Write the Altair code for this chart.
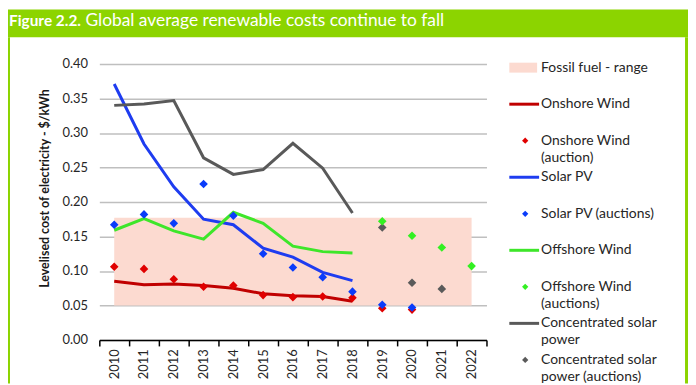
import altair as alt
import pandas as pd

# ---------------- data ----------------
years = [str(y) for y in range(2010, 2023)]
line_years = years[:9]  # 2010-2018

onshore_wind = [0.085, 0.080, 0.081, 0.079, 0.075, 0.067, 0.064, 0.063, 0.056]
solar_pv = [0.371, 0.284, 0.222, 0.175, 0.167, 0.133, 0.120, 0.098, 0.086]
offshore_wind = [0.159, 0.176, 0.158, 0.146, 0.185, 0.169, 0.136, 0.128, 0.126]
csp = [0.340, 0.342, 0.347, 0.264, 0.240, 0.247, 0.285, 0.249, 0.184]

onshore_auction_years = years[:11]
onshore_auction = [0.106, 0.103, 0.088, 0.077, 0.079, 0.065, 0.062, 0.063, 0.061, 0.046, 0.044]
solar_auction_years = years[:11]
solar_auction = [0.167, 0.182, 0.169, 0.226, 0.180, 0.125, 0.105, 0.091, 0.070, 0.051, 0.047]
offshore_auction_years = ["2019", "2020", "2021", "2022"]
offshore_auction = [0.172, 0.151, 0.134, 0.107]
csp_auction_years = ["2019", "2020", "2021"]
csp_auction = [0.163, 0.083, 0.074]

fossil_years = ["2010", "2022"]
fossil_low = [0.05, 0.05]
fossil_high = [0.177, 0.177]

y_ticks = [0.0, 0.05, 0.10, 0.15, 0.20, 0.25, 0.30, 0.35, 0.40]

series_names = ["Onshore Wind", "Solar PV", "Offshore Wind", "Concentrated solar power",
                "Concentrated solar power (auctions)", "Offshore Wind (auctions)",
                "Onshore Wind (auction)", "Solar PV (auctions)"]
series_colors = ["#C00000", "#1E3CF0", "#3EE62A", "#595959",
                 "#5A5A5A", "#33F022", "#E00000", "#0A3CFA"]

FONT = "Lato"


def long_df(series):
    rows = []
    for k, (name, yrs, vals) in enumerate(series):
        for y, v in zip(yrs, vals):
            rows.append({"series": name, "year": y, "value": v, "ord": k})
    return pd.DataFrame(rows)


lines_df = long_df([
    ("Onshore Wind", line_years, onshore_wind),
    ("Solar PV", line_years, solar_pv),
    ("Offshore Wind", line_years, offshore_wind),
    ("Concentrated solar power", line_years, csp),
])
points_df = long_df([
    ("Concentrated solar power (auctions)", csp_auction_years, csp_auction),
    ("Offshore Wind (auctions)", offshore_auction_years, offshore_auction),
    ("Onshore Wind (auction)", onshore_auction_years, onshore_auction),
    ("Solar PV (auctions)", solar_auction_years, solar_auction),
])
fossil_df = pd.DataFrame({"year": fossil_years, "value": fossil_high, "low": fossil_low})

# ---------------- encodings ----------------
x_enc = alt.X(
    "year:O",
    scale=alt.Scale(domain=years, type="band", paddingInner=0, paddingOuter=0),
    axis=alt.Axis(labelAngle=270, tickBand="extent", domainColor="#000000", domainWidth=1.5,
                  tickColor="#000000", tickWidth=1.5, tickSize=6, labelFontSize=13,
                  labelPadding=3, labelColor="#262626", grid=False, labelFont=FONT),
    title=None,
)
y_enc = alt.Y(
    "value:Q",
    scale=alt.Scale(domain=[0, 0.4], nice=False, zero=True),
    axis=alt.Axis(values=y_ticks, format=".2f", grid=True, gridColor="#BFBFBF", gridWidth=1.5,
                  domain=False, ticks=False, labelFontSize=13, labelPadding=12,
                  labelColor="#262626", labelFont=FONT,
                  title="Levelised cost of electricity - $/kWh", titleFontSize=12.5,
                  titleFontWeight="bold", titleFont=FONT, titleColor="#1A1A1A",
                  titleX=-55, titleY=125, titleAngle=270, titleAlign="center",
                  titleBaseline="middle"),
)
color_enc = alt.Color("series:N", scale=alt.Scale(domain=series_names, range=series_colors),
                      legend=None)

fossil = alt.Chart(fossil_df).mark_area(color="#FCDAD0", opacity=1).encode(
    x=x_enc, y=y_enc, y2="low:Q"
)
lines = alt.Chart(lines_df).mark_line(strokeWidth=3).encode(
    x=x_enc, y=y_enc, color=color_enc,
)
points = alt.Chart(points_df).mark_point(shape="diamond", filled=True, size=75, opacity=1).encode(
    x=x_enc, y=y_enc, color=color_enc,
    order=alt.Order("ord:Q"),
)

layers = [fossil, lines, points]

# ---------------- title bar & frame (layout) ----------------
one = pd.DataFrame({"k": [0]})
layers.append(alt.Chart(one).mark_rect(color="#8CD400").encode(
    x=alt.value(-92), x2=alt.value(593), y=alt.value(-55), y2=alt.value(-27)))
layers.append(alt.Chart(one).mark_rect(color="#8CD400").encode(
    x=alt.value(-92), x2=alt.value(-90), y=alt.value(-27), y2=alt.value(322)))
layers.append(alt.Chart(one).mark_rect(color="#8CD400").encode(
    x=alt.value(590), x2=alt.value(593), y=alt.value(-27), y2=alt.value(322)))
layers.append(alt.Chart(pd.DataFrame({"t": ["Figure 2.2."]})).mark_text(
    font=FONT, fontSize=15.5, fontWeight="bold", color="white", align="left", baseline="alphabetic"
).encode(x=alt.value(-91), y=alt.value(-38), text="t:N"))
layers.append(alt.Chart(pd.DataFrame({"t": ["Global average renewable costs continue to fall"]})).mark_text(
    font=FONT, fontSize=17.5, color="white", align="left", baseline="alphabetic"
).encode(x=alt.value(-14), y=alt.value(-38), text="t:N"))

# ---------------- custom legend ----------------
legend_line1 = ["Fossil fuel - range", "Onshore Wind", "Onshore Wind", "Solar PV",
                "Solar PV (auctions)", "Offshore Wind", "Offshore Wind",
                "Concentrated solar", "Concentrated solar"]
legend_line2 = ["", "", "(auction)", "", "", "", "(auctions)", "power", "power (auctions)"]
legend_kind = ["rect", "line", "point", "line", "point", "line", "point", "line", "point"]
legend_color = ["#FCDAD0", "#C00000", "#E00000", "#1E3CF0", "#0A3CFA", "#3EE62A", "#33F022",
                "#595959", "#5A5A5A"]

for i, (l1, l2, kind, col) in enumerate(zip(legend_line1, legend_line2, legend_kind, legend_color)):
    yy = 3.7 + i * 36.8
    if kind == "rect":
        layers.append(alt.Chart(one).mark_rect(color=col).encode(
            x=alt.value(413), x2=alt.value(441), y=alt.value(yy - 5), y2=alt.value(yy + 5)))
    elif kind == "line":
        layers.append(alt.Chart(one).mark_rule(color=col, strokeWidth=3).encode(
            x=alt.value(413), x2=alt.value(443), y=alt.value(yy)))
    else:
        layers.append(alt.Chart(one).mark_point(shape="diamond", filled=True, size=40,
                                                color=col, opacity=1).encode(
            x=alt.value(429), y=alt.value(yy)))
    layers.append(alt.Chart(pd.DataFrame({"t": [l1]})).mark_text(
        font=FONT, fontSize=14, color="#262626", align="left", baseline="middle"
    ).encode(x=alt.value(445), y=alt.value(yy), text="t:N"))
    if l2:
        layers.append(alt.Chart(pd.DataFrame({"t": [l2]})).mark_text(
            font=FONT, fontSize=14, color="#262626", align="left", baseline="middle"
        ).encode(x=alt.value(445), y=alt.value(yy + 17), text="t:N"))

chart = alt.layer(*layers).properties(
    width=390,
    height=278,
    autosize=alt.AutoSizeParams(type="none"),
    padding={"left": 92, "top": 55, "right": 203, "bottom": 44},
    background="white",
).configure_view(stroke=None)

chart.save("out.html", embed_options={"renderer": "svg", "actions": False})
